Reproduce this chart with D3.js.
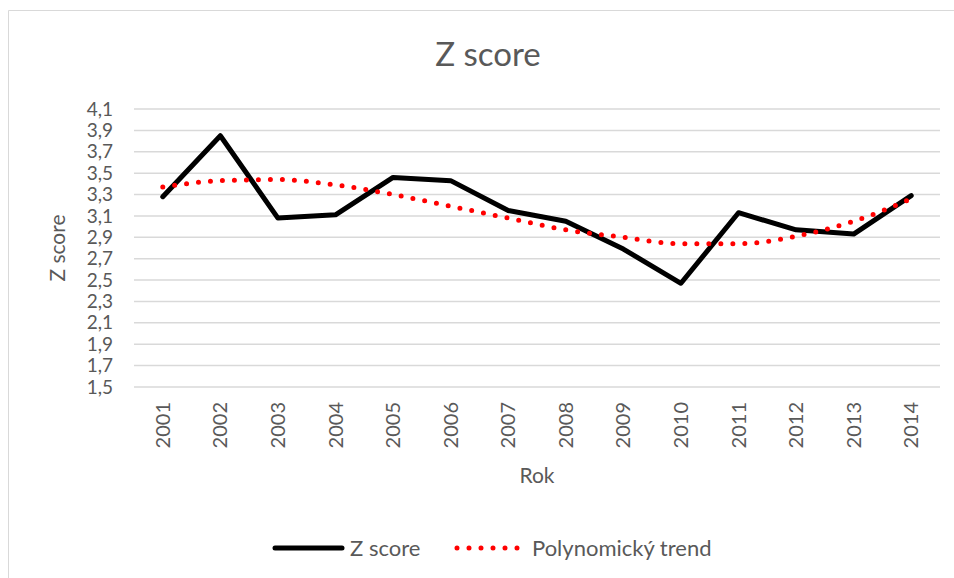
<!DOCTYPE html>
<html>
<head>
<meta charset="utf-8">
<title>Z score</title>
<script src="https://d3js.org/d3.v7.min.js"></script>
<style>
  body { margin: 0; background: #fff; }
  text { font-family: Lato, "Open Sans", sans-serif; fill: #595959; }
</style>
</head>
<body>
<svg id="chart" width="954" height="578"></svg>
<script>
// data
var years = ["2001","2002","2003","2004","2005","2006","2007","2008","2009","2010","2011","2012","2013","2014"];
var zscore = [3.28, 3.85, 3.08, 3.11, 3.46, 3.43, 3.15, 3.05, 2.79, 2.47, 3.13, 2.97, 2.93, 3.29];
var trend = [3.37, 3.43, 3.44, 3.39, 3.30, 3.19, 3.08, 2.97, 2.90, 2.84, 2.84, 2.91, 3.05, 3.26];
var yTicks = [1.5, 1.7, 1.9, 2.1, 2.3, 2.5, 2.7, 2.9, 3.1, 3.3, 3.5, 3.7, 3.9, 4.1];

var svg = d3.select("#chart");
var pLeft = 134, pRight = 940, pTop = 109, pBottom = 387;

// chart area border (only top/left visible)
svg.append("path")
   .attr("d", "M8.5,578 V10.5 H954")
   .attr("fill", "none")
   .attr("stroke", "#d9d9d9");

var x = d3.scaleBand().domain(years).range([pLeft, pRight]);
var y = d3.scaleLinear().domain([1.5, 4.1]).range([pBottom, pTop]);

// gridlines
svg.append("g").selectAll("line")
   .data(yTicks).enter().append("line")
   .attr("x1", pLeft).attr("x2", pRight)
   .attr("y1", d => y(d)).attr("y2", d => y(d))
   .attr("stroke", "#d9d9d9").attr("stroke-width", 1.5);

// y axis labels
var fmt = d => d.toFixed(1).replace(".", ",");
var yAxis = d3.axisLeft(y).tickValues(yTicks).tickFormat(fmt).tickSize(0).tickPadding(21);
var gy = svg.append("g").attr("transform", "translate(" + pLeft + ",0)").call(yAxis);
gy.select(".domain").remove();
gy.selectAll("text").style("font-size", "19px").attr("fill", "#595959")
  .style("font-family", "Lato, sans-serif");

// x axis labels
var xAxis = d3.axisBottom(x).tickSize(0);
var gx = svg.append("g").attr("transform", "translate(0," + pBottom + ")").call(xAxis);
gx.select(".domain").remove();
gx.selectAll("text")
  .attr("transform", "rotate(-90)")
  .attr("x", -15).attr("y", 0).attr("dy", "0.35em")
  .style("text-anchor", "end")
  .style("font-size", "20px").attr("fill", "#595959")
  .style("font-family", "Lato, sans-serif");

var cx = d => x(d) + x.bandwidth() / 2;

// main series
var line = d3.line().x((d, i) => cx(years[i])).y(d => y(d));
svg.append("path")
   .datum(zscore)
   .attr("d", line)
   .attr("fill", "none")
   .attr("stroke", "#000")
   .attr("stroke-width", 5)
   .attr("stroke-linejoin", "round")
   .attr("stroke-linecap", "round");

// polynomial trend (dotted)
var tline = d3.line().x((d, i) => cx(years[i])).y(d => y(d)).curve(d3.curveMonotoneX);
svg.append("path")
   .datum(trend)
   .attr("d", tline)
   .attr("fill", "none")
   .attr("stroke", "#ff0000")
   .attr("stroke-width", 5)
   .attr("stroke-dasharray", "0 12")
   .attr("stroke-linecap", "round");

// titles
svg.append("text")
   .attr("x", 488).attr("y", 66)
   .attr("text-anchor", "middle")
   .style("font-size", "33px")
   .text("Z score");

svg.append("text")
   .attr("transform", "translate(65," + ((pTop + pBottom) / 2) + ") rotate(-90)")
   .attr("text-anchor", "middle")
   .style("font-size", "21px")
   .text("Z score");

svg.append("text")
   .attr("x", (pLeft + pRight) / 2).attr("y", 483)
   .attr("text-anchor", "middle")
   .style("font-size", "21px")
   .text("Rok");

// legend
var lg = svg.append("g");
lg.append("line")
  .attr("x1", 275).attr("x2", 342).attr("y1", 548).attr("y2", 548)
  .attr("stroke", "#000").attr("stroke-width", 5).attr("stroke-linecap", "round");
lg.append("text").attr("x", 350).attr("y", 556).style("font-size", "22px").text("Z score");
lg.append("line")
  .attr("x1", 457).attr("x2", 518).attr("y1", 548).attr("y2", 548)
  .attr("stroke", "#ff0000").attr("stroke-width", 5)
  .attr("stroke-dasharray", "0 12").attr("stroke-linecap", "round");
lg.append("text").attr("x", 532).attr("y", 556).style("font-size", "22px").text("Polynomický trend");
</script>
</body>
</html>
